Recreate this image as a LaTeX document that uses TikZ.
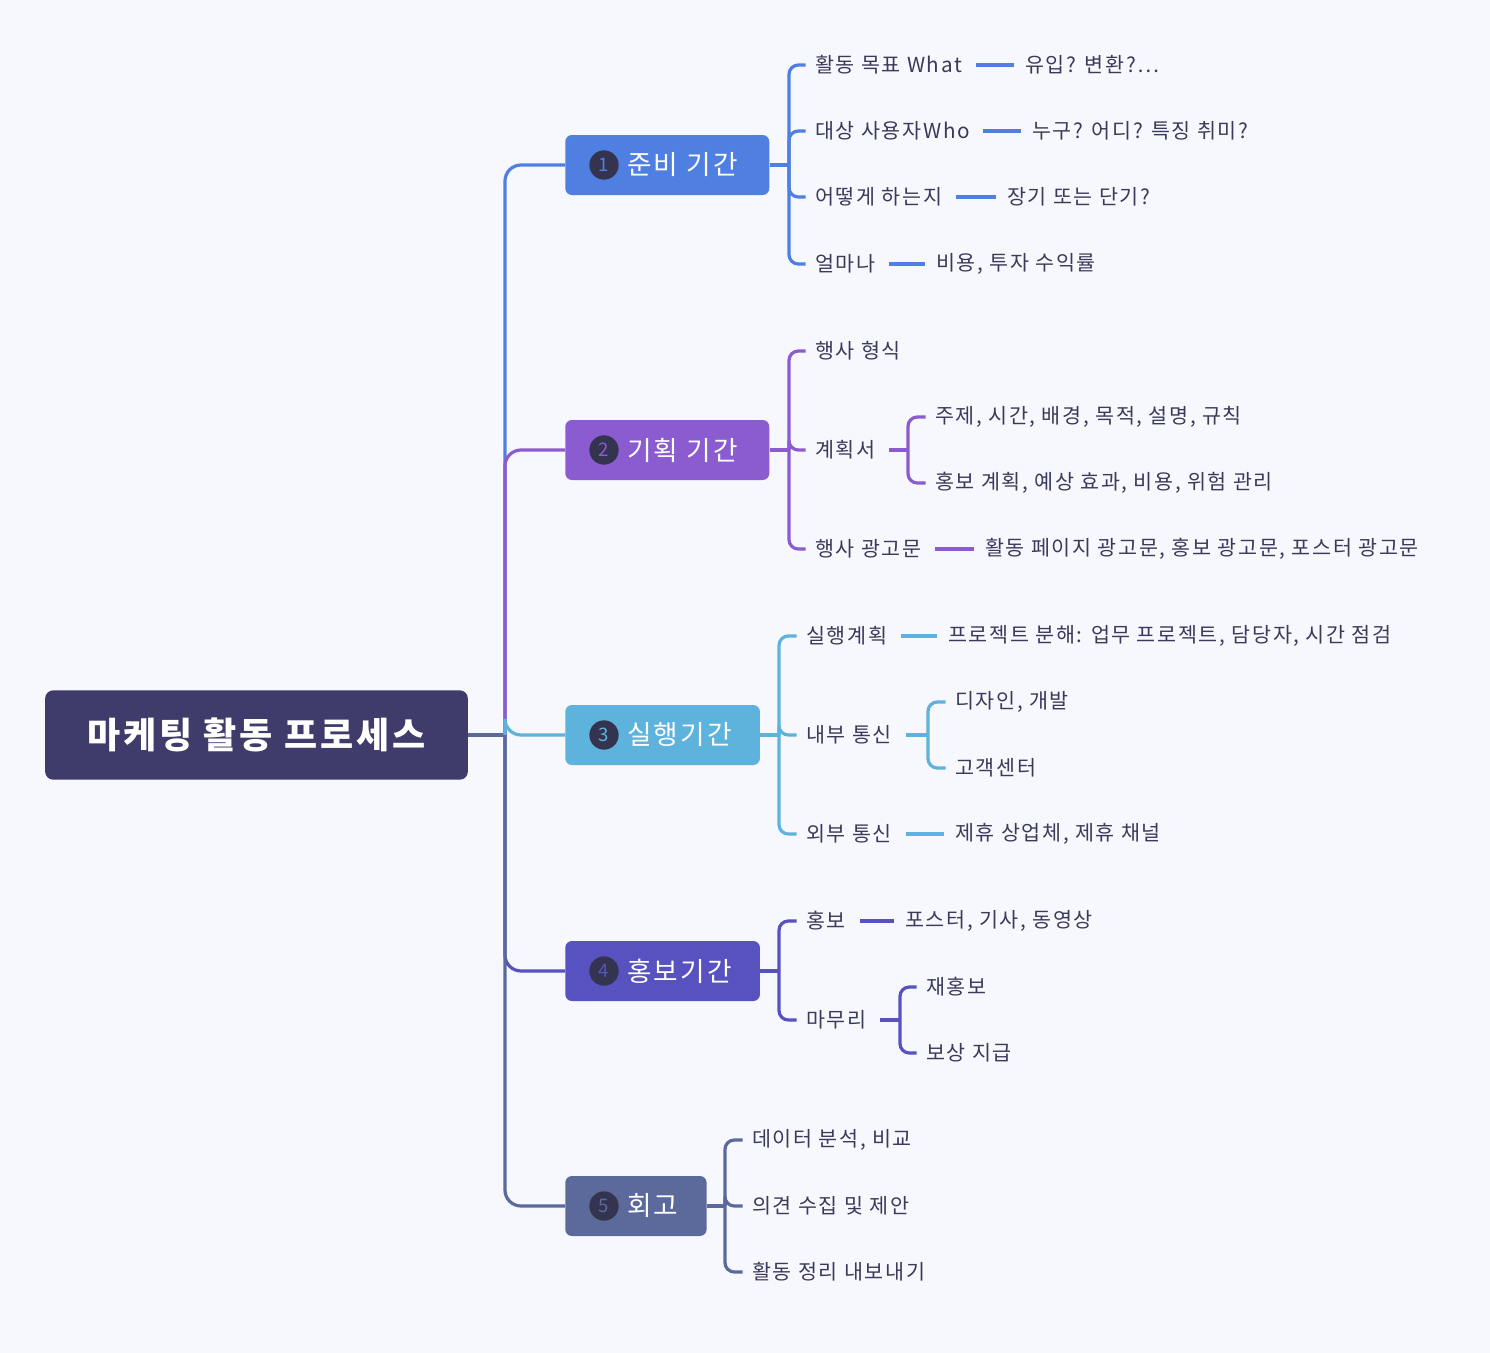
\documentclass[tikz,border=0pt]{standalone}
\usepackage{fontspec}
\setmainfont{Noto Sans CJK KR}[LetterSpace=8]
\definecolor{bgc}{HTML}{F7F8FD}
\definecolor{rootc}{HTML}{3F3B6B}
\definecolor{txtc}{HTML}{3A3A5A}
\definecolor{c1}{HTML}{4F7FE0}
\definecolor{c2}{HTML}{8A5CD0}
\definecolor{c3}{HTML}{5EB3DC}
\definecolor{c4}{HTML}{5752C0}
\definecolor{c5}{HTML}{5B6A9A}
\begin{document}
\begin{tikzpicture}[x=0.75pt,y=-0.75pt,
  rootbox/.style={fill=rootc,rounded corners=6pt,text=white,font=\fontsize{27}{32}\selectfont\bfseries,minimum width=317pt,minimum height=67pt},
  branchbox/.style={fill=#1,rounded corners=5pt,text=white,font=\fontsize{20}{24}\selectfont,minimum height=45pt,anchor=west,inner xsep=0pt},
  leaf/.style={text=txtc,font=\fontsize{15.5}{18}\selectfont,anchor=west,inner sep=0pt},
  num/.style={circle,fill=txtc!90!black,text=#1,font=\fontsize{14}{16}\selectfont,inner sep=0pt,minimum size=22pt},
  link/.style={draw=#1,line width=2.4pt,rounded corners=7pt},
  cut/.style={shorten <=10pt,shorten >=8pt}]
\fill[bgc] (0,0) rectangle (1490,1353);
% root
\node[rootbox] (root) at (256.5,735) {마케팅 활동 프로세스};
% branches
\node[branchbox=c1,minimum width=153pt] (b1) at (565,165) {};
\node[branchbox=c2,minimum width=153pt] (b2) at (565,450) {};
\node[branchbox=c3,minimum width=146pt] (b3) at (565,735) {};
\node[branchbox=c4,minimum width=146pt] (b4) at (565,971) {};
\node[branchbox=c5,minimum width=106pt] (b5) at (565,1206) {};
\foreach \b/\n/\t/\c in {b1/1/준비 기간/c1,b2/2/기획 기간/c2,b3/3/실행기간/c3,b4/4/홍보기간/c4,b5/5/회고/c5}{
  \node[num=\c] (n\b) at ([xshift=29.25pt]\b.west) {\n};
  \node[leaf,text=white,font=\fontsize{20}{24}\selectfont] (t\b) at ([xshift=6pt]n\b.east) {\t};
}
\draw[link=c5] (root.east) -- (505,735);
\foreach \b/\c in {b1/c1,b2/c2,b3/c3,b4/c4,b5/c5}
  \draw[link=\c,rounded corners=12pt] (505,735) |- (\b.west);
% branch 1
\node[leaf] (l11) at (815,65) {활동 목표 What};
\node[leaf] (l12) at (815,131) {대상 사용자Who};
\node[leaf] (l13) at (815,197) {어떻게 하는지};
\node[leaf] (l14) at (815,264) {얼마나};
\node[leaf] (m11) at (1025,65) {유입? 변환?…};
\node[leaf] (m12) at (1032,131) {누구? 어디? 특징 취미?};
\node[leaf] (m13) at (1007,197) {장기 또는 단기?};
\node[leaf] (m14) at (936,264) {비용, 투자 수익률};
\draw[link=c1] (b1.east) -- (789,165);
\foreach \l in {l11,l12,l13,l14}
  \draw[link=c1] (789,165) |- ([xshift=-7pt]\l.west);
\foreach \i in {1,2,3,4}
  \draw[link=c1,cut] (l1\i.east) -- (m1\i.west);
% branch 2
\node[leaf] (l21) at (815,351) {행사 형식};
\node[leaf] (l22) at (815,450) {계획서};
\node[leaf] (l23) at (815,549) {행사 광고문};
\node[leaf] (m21) at (935,417) {주제, 시간, 배경, 목적, 설명, 규칙};
\node[leaf] (m22) at (935,483) {홍보 계획, 예상 효과, 비용, 위험 관리};
\node[leaf] (m23) at (985,549) {활동 페이지 광고문, 홍보 광고문, 포스터 광고문};
\draw[link=c2] (b2.east) -- (789,450);
\foreach \l in {l21,l22,l23}
  \draw[link=c2] (789,450) |- ([xshift=-7pt]\l.west);
\draw[link=c2] ([xshift=10pt]l22.east) -- (908,450);
\foreach \l in {m21,m22}
  \draw[link=c2] (908,450) |- ([xshift=-7pt]\l.west);
\draw[link=c2,cut] (l23.east) -- (m23.west);
% branch 3
\node[leaf] (l31) at (806,636) {실행계획};
\node[leaf] (l32) at (806,735) {내부 통신};
\node[leaf] (l33) at (806,834) {외부 통신};
\node[leaf] (m31) at (948,636) {프로젝트 분해: 업무 프로젝트, 담당자, 시간 점검};
\node[leaf] (m32) at (955,702) {디자인, 개발};
\node[leaf] (m33) at (955,768) {고객센터};
\node[leaf] (m34) at (955,834) {제휴 상업체, 제휴 채널};
\draw[link=c3] (b3.east) -- (779,735);
\foreach \l in {l31,l32,l33}
  \draw[link=c3] (779,735) |- ([xshift=-7pt]\l.west);
\draw[link=c3,cut] (l31.east) -- (m31.west);
\draw[link=c3] ([xshift=10pt]l32.east) -- (928,735);
\foreach \l in {m32,m33}
  \draw[link=c3] (928,735) |- ([xshift=-7pt]\l.west);
\draw[link=c3,cut] (l33.east) -- (m34.west);
% branch 4
\node[leaf] (l41) at (806,921) {홍보};
\node[leaf] (l42) at (806,1020) {마무리};
\node[leaf] (m41) at (905,921) {포스터, 기사, 동영상};
\node[leaf] (m42) at (926,987) {재홍보};
\node[leaf] (m43) at (926,1053) {보상 지급};
\draw[link=c4] (b4.east) -- (779,971);
\foreach \l in {l41,l42}
  \draw[link=c4] (779,971) |- ([xshift=-7pt]\l.west);
\draw[link=c4,cut] (l41.east) -- (m41.west);
\draw[link=c4] ([xshift=10pt]l42.east) -- (900,1020);
\foreach \l in {m42,m43}
  \draw[link=c4] (900,1020) |- ([xshift=-7pt]\l.west);
% branch 5
\node[leaf] (l51) at (752,1140) {데이터 분석, 비교};
\node[leaf] (l52) at (752,1206) {의견 수집 및 제안};
\node[leaf] (l53) at (752,1272) {활동 정리 내보내기};
\draw[link=c5] (b5.east) -- (725,1206);
\foreach \l in {l51,l52,l53}
  \draw[link=c5] (725,1206) |- ([xshift=-7pt]\l.west);
\end{tikzpicture}
\end{document}
